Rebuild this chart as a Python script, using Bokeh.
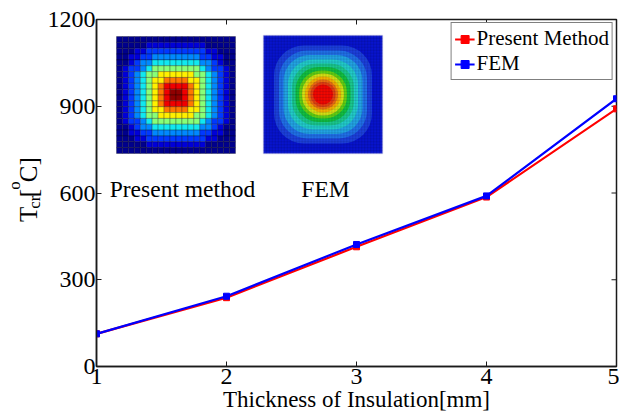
import math
from bokeh.plotting import figure
from bokeh.layouts import row
from bokeh.models import Range1d, FixedTicker, Label, BoxAnnotation, ColumnDataSource
from bokeh.embed import file_html
from bokeh.resources import INLINE

# ---------------- data ----------------
thickness = [1, 2, 3, 4, 5]
present_method = [113, 238, 414, 586, 891]
fem = [113, 243, 422, 590, 926]
x_ticks = [1, 2, 3, 4, 5]
y_ticks = [0, 300, 600, 900, 1200]

# inset 1: temperature levels (0..9) of the "Present method" cell map
pm_levels = [
    "00000000000000000000",
    "00000111111111100000",
    "00011222222222211000",
    "00112233333333221100",
    "00123344444444332100",
    "01223455555555432210",
    "01234556666665543210",
    "01234566777766543210",
    "01234567888876543210",
    "01234567899876543210",
    "01234567899876543210",
    "01234567888876543210",
    "01234566777766543210",
    "01234556666665543210",
    "01223455555555432210",
    "00123344444444332100",
    "00112233333333221100",
    "00011222222222211000",
    "00000111111111100000",
    "00000000000000000000",
]
pm_palette = ["#00008C", "#0000D8", "#0038FF", "#0088FF", "#10E8F0",
              "#88FF78", "#FFF000", "#FF7800", "#F00000", "#900000"]

# inset 2: FEM contour bands, outer to inner (band size in px, corner radius px, colour)
fem_bg = "#0814CC"
fem_band_size = [98, 88, 79, 70, 62, 55, 48, 42, 36, 30, 25, 20]
fem_band_radius = [30, 28, 26, 25, 24, 23, 22, 20, 18, 15, 12, 10]
fem_band_color = ["#1C40DA", "#2070E6", "#22A4E2", "#22CCC8", "#1AC88C", "#12C040",
                  "#62D012", "#D2E012", "#F2B000", "#EA7010", "#E24010", "#F20800"]

# y-axis title pieces: T_cr [ ^o C ]
ytitle_text = ["T", "cr", "[", "o", "C]"]
ytitle_size = ["25px", "17px", "25px", "17px", "25px"]

# ---------------- layout constants ----------------
TOTAL_W, TOTAL_H = 619, 418
LW = 43                                   # width of the strip holding the y title
FL, FT, FW, FH = 96, 19, 520, 347         # frame left/top/width/height in px (page coords)
XMIN, XMAX, YMIN, YMAX = 1, 5, 0, 1200
SERIF = "Liberation Serif"


def px2x(px):
    return XMIN + (px - FL) * (XMAX - XMIN) / FW


def py2y(py):
    return YMIN + (FT + FH - py) * (YMAX - YMIN) / FH


def dpx_x(d):
    return d * (XMAX - XMIN) / FW


def dpx_y(d):
    return d * (YMAX - YMIN) / FH


p = figure(width=TOTAL_W - LW, height=TOTAL_H, output_backend="svg", toolbar_location=None,
           x_range=Range1d(XMIN, XMAX), y_range=Range1d(YMIN, YMAX),
           min_border_left=FL - LW, min_border_right=TOTAL_W - FL - FW,
           min_border_top=FT, min_border_bottom=TOTAL_H - FT - FH)
p.background_fill_color = "white"
p.border_fill_color = "white"
p.outline_line_color = "#1a1a1a"
p.outline_line_width = 1.5
p.xgrid.visible = False
p.ygrid.visible = False

for ax, ticks in ((p.xaxis[0], x_ticks), (p.yaxis[0], y_ticks)):
    ax.ticker = FixedTicker(ticks=ticks)
    ax.major_tick_in = 5
    ax.major_tick_out = 0
    ax.minor_tick_line_color = None
    ax.axis_line_color = "#1a1a1a"
    ax.axis_line_width = 1.5
    ax.major_tick_line_color = "#1a1a1a"
    ax.major_tick_line_width = 1
    ax.major_label_text_font = SERIF
    ax.major_label_text_color = "black"
    ax.major_label_text_font_size = "24px"
    ax.major_label_standoff = 2
p.yaxis[0].major_label_standoff = 1

p.xaxis[0].axis_label = "Thickness of Insulation[mm]"
p.xaxis[0].axis_label_text_font = SERIF
p.xaxis[0].axis_label_text_font_style = "normal"
p.xaxis[0].axis_label_text_font_size = "23px"
p.xaxis[0].axis_label_text_color = "black"
p.xaxis[0].axis_label_standoff = 0

# inward ticks on the top and right edges of the box (half of each dash is clipped by the frame)
p.scatter(x_ticks, [YMAX] * len(x_ticks), marker="dash", angle=math.pi / 2, size=10,
          line_color="#1a1a1a", line_width=1)
p.scatter([XMAX] * len(y_ticks), y_ticks, marker="dash", size=10,
          line_color="#1a1a1a", line_width=1)

# ---------------- inset 1: Present method cell map ----------------
PM_L, PM_R, PM_T, PM_B = 116, 235, 36, 153
nr, nc = len(pm_levels), len(pm_levels[0])
cw, ch = (PM_R - PM_L) / nc, (PM_B - PM_T) / nr
xs, ys, cols = [], [], []
for i, rw in enumerate(pm_levels):
    for j, lv in enumerate(rw):
        xs.append(px2x(PM_L + (j + 0.5) * cw))
        ys.append(py2y(PM_T + (i + 0.5) * ch))
        cols.append(pm_palette[int(lv)])
src = ColumnDataSource(dict(x=xs, y=ys, c=cols))
p.rect("x", "y", width=dpx_x(cw), height=dpx_y(ch), source=src,
       fill_color="c", line_color="#000000", line_alpha=0.45, line_width=0.6)

# ---------------- inset 2: FEM contour picture ----------------
FE_L, FE_R, FE_T, FE_B = 263, 382, 35, 153
fcx, fcy = (FE_L + FE_R) / 2, (FE_T + FE_B) / 2
p.add_layout(BoxAnnotation(left=px2x(FE_L), right=px2x(FE_R), top=py2y(FE_T), bottom=py2y(FE_B),
                           fill_color=fem_bg, fill_alpha=1, line_color="#8C8CC8",
                           line_width=1.5, level="underlay"))
for s, r, c in zip(fem_band_size, fem_band_radius, fem_band_color):
    p.add_layout(BoxAnnotation(left=px2x(fcx - s / 2), right=px2x(fcx + s / 2),
                               top=py2y(fcy - s / 2), bottom=py2y(fcy + s / 2),
                               fill_color=c, fill_alpha=1, line_color=None,
                               border_radius=int(r), level="underlay"))
nm = 40
mx0, mx1, my0, my1 = [], [], [], []
for k in range(1, nm):
    xv = px2x(FE_L + k * (FE_R - FE_L) / nm)
    mx0.append(xv); mx1.append(xv); my0.append(py2y(FE_T)); my1.append(py2y(FE_B))
    yv = py2y(FE_T + k * (FE_B - FE_T) / nm)
    mx0.append(px2x(FE_L)); mx1.append(px2x(FE_R)); my0.append(yv); my1.append(yv)
p.segment(mx0, my0, mx1, my1, line_color="#000030", line_alpha=0.22, line_width=0.5)

p.add_layout(Label(x=px2x(182), y=py2y(188), text="Present method", text_align="center",
                   text_baseline="alphabetic", text_font=SERIF, text_font_size="23.5px",
                   text_color="black"))
p.add_layout(Label(x=px2x(325), y=py2y(188), text="FEM", text_align="center",
                   text_baseline="alphabetic", text_font=SERIF, text_font_size="23.5px",
                   text_color="black"))

# ---------------- series ----------------
p.line(thickness, present_method, line_color="#FF0000", line_width=2.2, legend_label="Present Method")
p.scatter(thickness, present_method, marker="square", size=6, fill_color="#FF0000",
          line_color="#FF0000", legend_label="Present Method")
p.line(thickness, fem, line_color="#0000FF", line_width=2.2, legend_label="FEM")
p.scatter(thickness, fem, marker="square", size=6, fill_color="#0000FF",
          line_color="#0000FF", legend_label="FEM")

lg = p.legend[0]
lg.location = "top_right"
lg.margin = 3
lg.padding = 3
lg.spacing = 0
lg.glyph_width = 20
lg.glyph_height = 20
lg.label_height = 23
lg.label_standoff = 2
lg.label_text_font = SERIF
lg.label_text_font_size = "21px"
lg.label_text_color = "black"
lg.border_line_color = "black"
lg.border_line_width = 1
lg.background_fill_alpha = 1

# ---------------- strip with the rotated y-axis title ----------------
q = figure(width=LW, height=TOTAL_H, output_backend="svg", toolbar_location=None,
           x_range=Range1d(0, LW), y_range=Range1d(TOTAL_H, 0),
           x_axis_type=None, y_axis_type=None, min_border=0)
q.outline_line_color = None
q.xgrid.visible = False
q.ygrid.visible = False
q.background_fill_color = "white"
q.border_fill_color = "white"
title_pos = [(27.5, 244), (34, 228), (27.5, 214), (14, 205), (27.5, 196)]  # baseline x, start y (px)
for t, fs, (bx, sy) in zip(ytitle_text, ytitle_size, title_pos):
    q.add_layout(Label(x=bx, y=sy, text=t, angle=math.pi / 2, text_align="left",
                       text_baseline="alphabetic", text_font=SERIF, text_font_size=fs,
                       text_color="black"))

layout = row(q, p, spacing=0)
open("out.html", "w").write(file_html(layout, INLINE))
